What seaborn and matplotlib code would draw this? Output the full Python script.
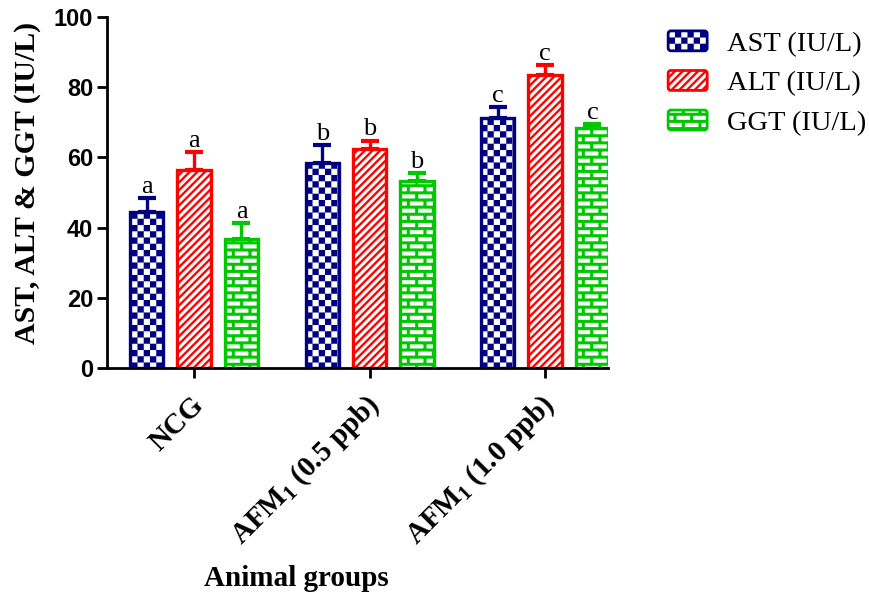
import warnings
import numpy as np
import pandas as pd
import matplotlib
matplotlib.use("Agg")
import matplotlib.pyplot as plt
import matplotlib.hatch as mhatch
import matplotlib.transforms as mtransforms
from matplotlib.path import Path
from matplotlib.patches import FancyBboxPatch, Patch
from matplotlib.legend_handler import HandlerPatch
import seaborn as sns

warnings.filterwarnings("ignore", category=matplotlib.MatplotlibDeprecationWarning)

# ---- data -------------------------------------------------------------
groups = ["NCG", r"AFM$_\mathbf{1}$ (0.5 ppb)", r"AFM$_\mathbf{1}$ (1.0 ppb)"]
enzymes = ["AST (IU/L)", "ALT (IU/L)", "GGT (IU/L)"]
ast_mean = [44.5, 58.3, 71.1]
ast_sd = [3.8, 5.2, 3.2]
alt_mean = [56.4, 62.4, 83.5]
alt_sd = [5.0, 2.4, 2.8]
ggt_mean = [36.7, 53.3, 68.4]
ggt_sd = [4.5, 2.2, 1.0]
group_letters = ["a", "b", "c"]

colors = ["#000080", "#ff0000", "#00c800"]
hatches = ["c", "s", "b"]


# ---- filled hatch patterns: checkerboard, stripes, bricks -------------
class _PolygonHatch(mhatch.HatchPatternBase):
    symbol = ""

    def __init__(self, hatch, density):
        k = hatch.count(self.symbol) if hatch else 0
        self.polys = self.build(k) if k else []
        self.num_vertices = 5 * len(self.polys)

    def build(self, k):
        return []

    def set_vertices_and_codes(self, vertices, codes):
        for i, poly in enumerate(self.polys):
            vertices[5 * i:5 * i + 4] = poly
            vertices[5 * i + 4] = poly[0]
            codes[5 * i] = Path.MOVETO
            codes[5 * i + 1:5 * i + 4] = Path.LINETO
            codes[5 * i + 4] = Path.CLOSEPOLY


class CheckerHatch(_PolygonHatch):
    symbol = "c"

    def build(self, k):
        n = 16 * k
        d = 1.0 / n
        return [[(i * d, j * d), ((i + 1) * d, j * d),
                 ((i + 1) * d, (j + 1) * d), (i * d, (j + 1) * d)]
                for i in range(n) for j in range(n) if (i + j) % 2 == 0]


class StripeHatch(_PolygonHatch):
    symbol = "s"

    def build(self, k):
        n = 13 * k
        h = 0.42 / (2 * n)
        polys = []
        for m in range(-n - 1, n + 2):
            c = m / n
            polys.append([(-0.2, -0.2 + c - h), (1.2, 1.2 + c - h),
                          (1.2, 1.2 + c + h), (-0.2, -0.2 + c + h)])
        return polys


class BrickHatch(_PolygonHatch):
    symbol = "b"

    def build(self, k):
        rows = 14 * k
        cols = 6 * k
        th = 0.03
        tv = 0.03
        polys = []
        for j in range(rows + 1):
            y = j / rows
            polys.append([(-0.1, y - th / 2), (1.1, y - th / 2),
                          (1.1, y + th / 2), (-0.1, y + th / 2)])
        for j in range(rows):
            y0, y1 = j / rows, (j + 1) / rows
            shift = 0.5 * (j % 2)
            for i in range(cols + 1):
                x = (i + shift) / cols
                polys.append([(x - tv / 2, y0), (x + tv / 2, y0),
                              (x + tv / 2, y1), (x - tv / 2, y1)])
        return polys


mhatch._hatch_types.extend([CheckerHatch, StripeHatch, BrickHatch])

# ---- style ------------------------------------------------------------
sns.set_theme(style="ticks")
plt.rcParams["font.family"] = ["Liberation Serif", "DejaVu Serif"]
plt.rcParams["mathtext.fontset"] = "custom"
plt.rcParams["mathtext.rm"] = "Liberation Serif:bold"
plt.rcParams["mathtext.bf"] = "Liberation Serif:bold"
plt.rcParams["mathtext.it"] = "Liberation Serif:bold:italic"
plt.rcParams["hatch.linewidth"] = 0.05
for key in ("text.color", "axes.labelcolor", "xtick.color", "ytick.color",
            "axes.edgecolor"):
    plt.rcParams[key] = "black"

df = pd.DataFrame({
    "group": groups * 3,
    "enzyme": np.repeat(enzymes, len(groups)),
    "value": ast_mean + alt_mean + ggt_mean,
})
errs = [ast_sd, alt_sd, ggt_sd]
means = [ast_mean, alt_mean, ggt_mean]

fig = plt.figure(figsize=(8.7, 5.94), dpi=100)
ax = fig.add_axes([0.1230, 0.3805, 0.5759, 0.5909])

sns.barplot(data=df, x="group", y="value", hue="enzyme", order=groups,
            hue_order=enzymes, palette=dict(zip(enzymes, colors)),
            width=0.81, gap=0.3, errorbar=None, legend=False, ax=ax)

for container, col, hat, m, e in zip(ax.containers, colors, hatches, means, errs):
    xs = []
    for bar in container:
        bar.set_facecolor("white")
        bar.set_edgecolor(col)
        bar.set_hatch(hat)
        bar.set_linewidth(2.4)
        bar.set_zorder(2)
        xs.append(bar.get_x() + bar.get_width() / 2)
    ax.errorbar(xs, m, yerr=[np.zeros(len(e)), e], fmt="none", ecolor=col,
                elinewidth=2.4, capsize=6.8, capthick=3.0, zorder=1.5)
    for x, v, s, lab in zip(xs, m, e, group_letters):
        ax.annotate(lab, (x, v + s), xytext=(0, 4), textcoords="offset points",
                    ha="center", va="baseline", fontsize=19,
                    family="Liberation Serif", annotation_clip=False)

ax.set_ylim(0, 100)
ax.set_xlim(-0.496, 2.359)
ax.set_yticks([0, 20, 40, 60, 80, 100])
ax.tick_params(axis="both", length=7, width=2.0, color="black", pad=3)
ax.tick_params(axis="x", pad=14)
for lab in ax.get_yticklabels():
    lab.set_family("Liberation Sans")
    lab.set_fontweight("bold")
    lab.set_fontsize(17)
ax.set_xticks(range(len(groups)))
ax.set_xticklabels(groups, rotation=45, ha="right", va="center",
                   rotation_mode="anchor", fontsize=21, fontweight="bold")
# nudge the rotated group names a little right and down
shift = mtransforms.ScaledTranslation(6 / 100, -4 / 100, fig.dpi_scale_trans)
for lab in ax.get_xticklabels():
    lab.set_transform(lab.get_transform() + shift)
for side in ("left", "bottom"):
    ax.spines[side].set_linewidth(2.0)
    ax.spines[side].set_color("black")
sns.despine(ax=ax)

ax.set_xlabel("Animal groups", fontsize=21, fontweight="bold")
ax.xaxis.set_label_coords(0.377, -0.561)
ax.set_ylabel("AST, ALT & GGT (IU/L)", fontsize=21.5, fontweight="bold")
ax.yaxis.set_label_coords(-0.132, 0.527)


def rounded_box(legend, orig_handle, xdescent, ydescent, width, height, fontsize):
    return FancyBboxPatch((-xdescent, -ydescent), width, height,
                          boxstyle="round,pad=0,rounding_size=2")


handles = [Patch(facecolor="white", edgecolor=c, hatch=h, linewidth=2.0, label=n)
           for c, h, n in zip(colors, hatches, enzymes)]
fig.legend(handles=handles, loc="upper left", bbox_to_anchor=(0.768, 0.948),
           frameon=False, fontsize=20.5, borderpad=0, borderaxespad=0,
           handlelength=1.37, handleheight=0.7, handletextpad=0.68,
           labelspacing=0.48,
           handler_map={Patch: HandlerPatch(patch_func=rounded_box)})

fig.savefig("out.png", dpi=100)
